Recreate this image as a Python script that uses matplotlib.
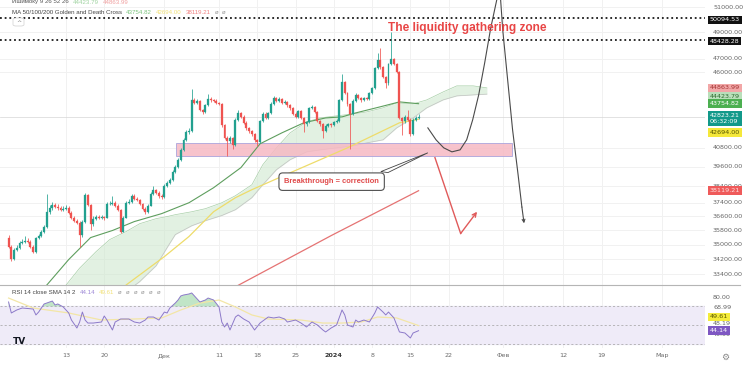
import numpy as np
import pandas as pd
import matplotlib
matplotlib.use("Agg")
import matplotlib.pyplot as plt
import matplotlib.dates as mdates
from matplotlib.transforms import blended_transform_factory, offset_copy
from matplotlib.patches import Rectangle, Polygon, FancyBboxPatch
from matplotlib.lines import Line2D
from matplotlib.ticker import NullLocator

# ---------------- data (12h candles, BTC/USDT) ----------------
candle_start = "2023-11-02 12:00"
first_open = 35390
closes = [34890, 34230, 34720, 34830, 35110, 35170, 35220, 35170, 34890, 34610,
          35390, 35500, 35730, 36010, 36870, 37110, 37290, 37170, 37110, 36990,
          37050, 37110, 36810, 36530, 36350, 36240, 35560, 36300, 37880, 37290,
          36180, 36470, 36590, 36530, 36590, 36530, 37340, 37340, 37400, 37230,
          36990, 35730, 36530, 37400, 37460, 37820, 37640, 37580, 37340, 37050,
          36870, 37230, 37940, 38180, 38000, 37820, 37760, 38420, 38610, 38790,
          39290, 39600, 40040, 40670, 41320, 41850, 41910, 44020, 43810, 43950,
          43330, 43190, 43680, 44090, 44020, 43950, 43810, 43740, 42310, 41450,
          41250, 41450, 40990, 42650, 43120, 42850, 42450, 42110, 41910, 41710,
          41320, 41190, 42580, 43050, 42780, 43120, 43740, 44160, 43950, 44090,
          43810, 43880, 43670, 43470, 43050, 42850, 43260, 42780, 42380, 42510,
          43470, 43540, 43190, 42580, 42380, 41910, 42240, 42380, 42310, 42510,
          42580, 44020, 45280, 44510, 43740, 43050, 43950, 44370, 44160, 44020,
          44160, 44090, 44510, 44860, 46300, 46890, 46380, 45650, 45210, 46600,
          46960, 46600, 46020, 42780, 42580, 42850, 42650, 41710, 42650, 42780,
          42823.21]
highs = [35520, 34950, 34800, 34950, 35200, 35300, 35500, 35350, 35250, 34950,
         35450, 35600, 35820, 36100, 37900, 37250, 37450, 37380, 37300, 37200,
         37180, 37250, 37200, 36900, 36620, 36450, 36320, 36400, 38000, 37950,
         37350, 36600, 36700, 36680, 36700, 36650, 37450, 37500, 37800, 37480,
         37300, 37050, 36600, 37480, 37600, 37900, 37950, 37720, 37650, 37400,
         37120, 37300, 38050, 38400, 38250, 38100, 37900, 38500, 38700, 38900,
         39400, 39700, 40150, 40800, 41450, 41950, 42100, 44800, 44150, 44100,
         44000, 43400, 43750, 44450, 44200, 44100, 44050, 43900, 43800, 42400,
         41600, 41550, 41500, 42750, 43300, 43200, 42950, 42550, 42200, 42000,
         41800, 41400, 42650, 43150, 43150, 43200, 43850, 44280, 44250, 44200,
         44150, 44000, 43950, 43750, 43550, 43150, 43350, 43300, 42850, 42600,
         43550, 43650, 43600, 43250, 42650, 42450, 42350, 42450, 42450, 42600,
         42700, 44100, 45850, 45350, 44600, 43800, 44050, 44500, 44450, 44250,
         44250, 44250, 44600, 44950, 46400, 47400, 47780, 46450, 45750, 46700,
         49000, 47050, 46700, 46100, 42850, 43000, 43300, 42750, 42750, 42900,
         43050]
lows = [34800, 34120, 34150, 34650, 34780, 35050, 35100, 35080, 34800, 34520,
        34560, 35300, 35420, 35650, 35950, 36750, 37000, 37080, 37000, 36900,
        36900, 36950, 36720, 36450, 36250, 36150, 34850, 35450, 36200, 37200,
        35800, 36050, 36380, 36450, 36450, 36400, 36480, 37250, 37280, 37150,
        36900, 35650, 35680, 36480, 37350, 37400, 37550, 37480, 37250, 36950,
        36750, 36800, 37180, 37880, 37900, 37700, 37650, 37700, 38350, 38550,
        38720, 39200, 39520, 39980, 40600, 41250, 41700, 41850, 43700, 43700,
        43250, 43050, 43100, 43600, 43900, 43850, 43700, 43650, 42200, 41350,
        40250, 41100, 40700, 40900, 42550, 42750, 42350, 42000, 41800, 41600,
        41200, 40950, 41100, 42500, 42700, 42700, 43050, 43650, 43850, 43850,
        43700, 43700, 43550, 43350, 42950, 42750, 42780, 42700, 41850, 42250,
        42450, 43400, 43100, 42480, 42250, 41450, 41850, 42150, 42200, 42250,
        42450, 42500, 43950, 44400, 43600, 40700, 42950, 43850, 44050, 43900,
        43950, 43980, 44000, 44450, 44800, 46200, 46250, 45550, 44860, 45100,
        46500, 46500, 45900, 42700, 41650, 42450, 42550, 41600, 41650, 42550,
        42700]

# Moving averages (sampled at candle indices)
ma50_idx = [8, 14, 22, 30, 38, 46, 56, 66, 75, 85, 92, 100, 108, 116, 122, 127, 136, 143, 150]
ma50_val = [31960, 32830, 34180, 35390, 35790, 36300, 36760, 37400, 38300, 39540, 41060,
            41780, 42450, 42780, 42850, 43120, 43540, 43880, 43754.82]
ma100_idx = [40, 43, 57, 66, 75, 83, 89, 104, 124, 143, 150]
ma100_val = [32270, 32830, 34340, 35450, 36870, 37700, 38180, 39290, 40800, 42450, 42694.00]
ma200_idx = [82, 118, 150]
ma200_val = [32660, 35500, 38119.21]

# Ichimoku cloud (indices extend 26 bars into the future)
cloud_idx = [19, 26, 32, 37, 43, 48, 54, 58, 61, 67, 72, 78, 83, 89, 93, 98, 103, 109,
             114, 120, 126, 131, 137, 142, 148, 153, 159, 164, 170, 175]
span_a = [32470, 33720, 34610, 35280, 35730, 36180, 36470, 36590, 36700, 36870, 37050,
          37400, 37820, 38480, 39720, 40800, 41780, 42510, 42780, 42920, 43050, 43190,
          43470, 43810, 43740, 44020, 44580, 45010, 45010, 44863.99]
span_b = [31970, 31970, 31970, 32100, 32470, 33010, 33850, 34830, 35560, 36060, 36350,
          36650, 36990, 37700, 38480, 39410, 40040, 40540, 40670, 40800, 40930, 41120,
          41320, 42110, 42780, 43470, 44020, 44300, 44370, 44423.79]

# RSI 14 and its SMA
rsi_idx = [0, 1, 3, 5, 9, 10, 11, 13, 14, 16, 17, 18, 20, 22, 23, 25, 26, 27, 28, 29,
           31, 34, 35, 36, 38, 39, 41, 44, 46, 48, 50, 51, 53, 55, 57, 58, 59, 61, 62,
           63, 64, 66, 67, 68, 69, 70, 72, 73, 75, 77, 78, 79, 80, 81, 83, 84, 86, 88,
           90, 92, 94, 95, 97, 99, 101, 102, 105, 107, 109, 111, 113, 115, 116, 118,
           120, 122, 123, 124, 126, 127, 128, 130, 132, 134, 135, 137, 138, 139, 141,
           143, 145, 147, 148, 150]
rsi_val = [74.7, 63.0, 66.2, 68.3, 67.2, 60.9, 64.0, 72.6, 73.6, 75.7, 71.5, 72.6, 69.4,
           63.0, 55.5, 47.0, 53.4, 64.0, 55.5, 52.3, 52.3, 53.4, 59.8, 55.5, 44.9, 53.4,
           56.6, 56.6, 53.4, 52.3, 55.5, 58.7, 58.7, 55.5, 64.0, 63.0, 68.3, 73.6, 76.8,
           81.1, 82.1, 83.2, 84.3, 81.1, 77.9, 74.7, 76.8, 78.9, 76.8, 69.4, 53.4, 48.1,
           52.3, 44.9, 58.7, 60.9, 56.6, 53.4, 44.9, 52.3, 56.6, 58.7, 57.7, 58.7, 56.6,
           53.4, 55.5, 52.3, 48.1, 53.4, 50.2, 44.9, 42.8, 47.0, 50.2, 66.2, 60.9, 50.2,
           48.1, 55.5, 53.4, 55.5, 53.4, 63.0, 69.4, 64.0, 60.9, 64.0, 57.7, 42.8, 41.7,
           36.4, 41.7, 44.14]
sma_idx = [0, 9, 22, 34, 46, 56, 63, 70, 77, 83, 89, 95, 107, 115, 122, 129, 135, 142, 150]
sma_val = [78.9, 68.3, 63.0, 55.5, 56.6, 57.7, 66.2, 73.6, 76.8, 69.4, 60.9, 56.6, 55.5,
           52.3, 52.3, 53.4, 58.7, 57.7, 49.61]

# axis labels
tick_dates = ["2023-11-13", "2023-11-20", "2023-12-01", "2023-12-11", "2023-12-18",
              "2023-12-25", "2024-01-01", "2024-01-08", "2024-01-15", "2024-01-22",
              "2024-02-01", "2024-02-12", "2024-02-19", "2024-03-01"]
tick_labels = ["13", "20", "Дек", "11", "18", "25", "2024", "8", "15", "22", "Фев",
               "12", "19", "Мар"]
price_ticks = [51000, 49000, 47000, 46000, 40800, 39600, 38400, 37400, 36600, 35800,
               35000, 34200, 33400]
rsi_ticks = [80.00, 68.99, 48.19, 40.00]
level_hi, level_lo = 50094.53, 48428.28
zone_lo, zone_hi = 40290, 41120

# annotation paths (days after 2023-11-01, price)
BASE = pd.Timestamp("2023-11-01")
zone_days = (32.1, 93.6)
curve_days = [78.2, 79.7, 81.1, 82.6, 84.1, 85.3, 86.4, 87.5, 88.6, 89.7, 90.8, 91.4,
              91.9, 92.8, 93.7, 94.7, 95.4, 95.8]
curve_px = [42110, 41320, 40800, 40540, 40670, 41320, 42650, 44370, 46690, 49330,
            51570, 52300, 49170, 45430, 41980, 39120, 37150, 36200]
red_days = [79.5, 84.2, 87.2]
red_px = [40170, 35620, 36870]

# ---------------- figure ----------------
W, H = 750, 366
fig = plt.figure(figsize=(W / 100, H / 100), dpi=100)
fig.patch.set_facecolor("white")


def px_axes(x0, y0, x1, y1):
    return fig.add_axes([x0 / W, 1 - y1 / H, (x1 - x0) / W, (y1 - y0) / H])


def T(days):
    return mdates.date2num(BASE + pd.Timedelta(days=days))


ax = px_axes(0, 0, 705, 285)
rx = px_axes(0, 285, 705, 348)
for a in (ax, rx):
    for s in a.spines.values():
        s.set_visible(False)
    a.set_facecolor("none")

t_all = mdates.date2num(pd.date_range(candle_start, periods=180, freq="12h"))
n = len(closes)
t = t_all[:n]
c = np.array(closes, float)
o = np.array([first_open] + closes[:-1], float)
hi = np.array(highs, float)
lo = np.array(lows, float)

UP, DN = "#22a08f", "#ef5350"
cols = np.where(c >= o, UP, DN)

xl = (T(-0.07), T(128.9))
ax.set_yscale("log")
ax.set_ylim(32829, 51569)
ax.set_xlim(*xl)
rx.set_xlim(*xl)
rx.set_ylim(25.74, 92.77)

tick_t = mdates.date2num(pd.to_datetime(tick_dates))
GRID = "#f1f1f1"
for tt in tick_t:
    ax.axvline(tt, color=GRID, lw=0.7, zorder=0)
    rx.axvline(tt, color=GRID, lw=0.7, zorder=0)
for p in price_ticks:
    ax.axhline(p, color=GRID, lw=0.7, zorder=0)

# Ichimoku cloud
ct = t_all[cloud_idx]
ax.fill_between(ct, span_a, span_b, color="#cfe8cf", alpha=0.6, lw=0, zorder=1)
ax.plot(ct, span_a, color="#a8cfa8", lw=0.5, zorder=1.1)
ax.plot(ct, span_b, color="#c2c2c2", lw=0.5, zorder=1.1)

# liquidity zone
ax.add_patch(Rectangle((T(zone_days[0]), zone_lo), T(zone_days[1]) - T(zone_days[0]),
                       zone_hi - zone_lo, fc="#f6b9c3", ec="#a9a3dc", lw=0.7,
                       alpha=0.85, zorder=1.5))

# moving averages
ax.plot(t_all[ma200_idx], ma200_val, color="#e57373", lw=0.9, zorder=2)
ax.plot(t_all[ma100_idx], ma100_val, color="#eedc6a", lw=0.9, zorder=2)
ax.plot(t_all[ma50_idx], ma50_val, color="#5e9e5e", lw=0.8, zorder=2)

# candles
ax.vlines(t, lo, hi, colors=cols, lw=0.55, zorder=3)
ax.bar(t, np.maximum(np.abs(c - o), 1), bottom=np.minimum(o, c), width=0.36,
       color=cols, edgecolor=cols, linewidth=0.2, zorder=3.1)

# level lines
ax.axhline(level_hi, color="#1a1a1a", lw=1.3, ls=(0, (1, 1.6)), zorder=4)
ax.axhline(level_lo, color="#1a1a1a", lw=1.3, ls=(0, (1, 1.6)), zorder=4)
ax.axhline(closes[-1], color="#d6d6d6", lw=0.5, zorder=0.5)

# drawings
ax.plot([T(d) for d in curve_days[:-1]], curve_px[:-1], color="#4a4a4a", lw=0.8, zorder=5)
ax.annotate("", xy=(T(curve_days[-1]), curve_px[-1]),
            xytext=(T(curve_days[-2]), curve_px[-2]),
            arrowprops=dict(arrowstyle="->", color="#4a4a4a", lw=0.8, mutation_scale=5,
                            shrinkA=0, shrinkB=0), zorder=5)
ax.plot([T(d) for d in red_days[:2]], red_px[:2], color="#e05a5a", lw=1.0, zorder=5)
ax.annotate("", xy=(T(red_days[2]), red_px[2]), xytext=(T(red_days[1]), red_px[1]),
            arrowprops=dict(arrowstyle="->", color="#e05a5a", lw=1.0, mutation_scale=7,
                            shrinkA=0, shrinkB=0), zorder=5)

ax.add_patch(Polygon([(T(69.6), 39290), (T(78.2), 40480), (T(70.9), 39230)],
                     closed=True, fc="white", ec="#444444", lw=0.6, zorder=6))
ax.text(T(60.6), 38670, "Breakthrough = correction", ha="center", va="center",
        fontsize=5.4, fontweight="bold", color="#e04a4a", family="Liberation Sans",
        zorder=7, bbox=dict(boxstyle="round,pad=0.7,rounding_size=0.5", fc="white",
                            ec="#505050", lw=0.8))
ax.text(T(70.9), 49330, "The liquidity gathering zone", ha="left", va="center",
        fontsize=8.6, fontweight="bold", color="#e84545", family="Liberation Sans",
        zorder=7)

# ---------------- RSI ----------------
rx.axhspan(30, 70, color="#efebf8", zorder=0.2)
for lvl in (70, 50, 30):
    rx.axhline(lvl, color="#a0a0a0", lw=0.5, ls=(0, (3, 3)), zorder=0.5)
rt = t_all[rsi_idx]
rv = np.array(rsi_val)
rx.fill_between(rt, rv, 70, where=rv > 70, interpolate=True, color="#8fd19a",
                alpha=0.55, lw=0, zorder=1)
rx.plot(t_all[sma_idx], sma_val, color="#f3e6a6", lw=0.9, zorder=1.5)
rx.plot(rt, rv, color="#8c79c9", lw=0.7, zorder=2)

# axes ticks
for a in (ax, rx):
    a.yaxis.set_major_locator(NullLocator())
    a.yaxis.set_minor_locator(NullLocator())
    a.xaxis.set_minor_locator(NullLocator())
ax.set_xticks([])
rx.set_xticks(tick_t)
rx.set_xticklabels(tick_labels, fontsize=4.6, color="#6a6a6a")
rx.tick_params(axis="x", length=0, pad=3.5)
for lbl in rx.get_xticklabels():
    if lbl.get_text() == "2024":
        lbl.set_fontweight("bold")
        lbl.set_color("#333333")

FS = 4.6


def rlabel(a, val, txt, fc=None, tc="#666666", dy=0.0, x_px=8):
    tr = blended_transform_factory(a.transAxes, a.transData)
    tr = offset_copy(tr, fig=fig, x=0, y=dy, units="dots")
    kw = dict(fontsize=FS, color=tc, va="center", ha="left", transform=tr,
              clip_on=False, zorder=10)
    if fc:
        kw["bbox"] = dict(boxstyle="square,pad=0.28", fc=fc, ec="none")
    return a.text(1 + x_px / 705, val, txt, **kw)


for p in price_ticks:
    rlabel(ax, p, f"{p:.2f}")
rlabel(ax, level_hi, f"{level_hi:.2f}", fc="#111111", tc="white", dy=-1.5, x_px=5)
rlabel(ax, level_lo, f"{level_lo:.2f}", fc="#111111", tc="white", dy=-1.4, x_px=5)
rlabel(ax, span_a[-1], f"{span_a[-1]:.2f}", fc="#f2a7a7", tc="#a33333", x_px=5)
rlabel(ax, span_b[-1], f"{span_b[-1]:.2f}", fc="#b9dfba", tc="#2e6b2e", dy=-2, x_px=5)
rlabel(ax, ma50_val[-1], f"{ma50_val[-1]:.2f}", fc="#4caf50", tc="white", x_px=5)
tr_t = offset_copy(blended_transform_factory(ax.transAxes, ax.transData), fig=fig,
                   x=0, y=4, units="dots")
ax.text(1 + 5 / 705, closes[-1], f"{closes[-1]:.2f}\n06:32:09", fontsize=FS,
        color="white", va="top", ha="left", transform=tr_t, clip_on=False,
        linespacing=1.25, zorder=10,
        bbox=dict(boxstyle="square,pad=0.28", fc="#12998a", ec="none"))
rlabel(ax, ma100_val[-1], f"{ma100_val[-1]:.2f}", fc="#f5e83a", tc="#555500", dy=-13.4,
       x_px=5)
rlabel(ax, ma200_val[-1], f"{ma200_val[-1]:.2f}", fc="#ef5a5a", tc="#ffe0e0", x_px=5)

for v in rsi_ticks:
    rlabel(rx, v, f"{v:.2f}", dy=3 if v == 48.19 else 0)
rlabel(rx, sma_val[-1], f"{sma_val[-1]:.2f}", fc="#f5ec3a", tc="#555500", dy=8.6, x_px=5)
rlabel(rx, rsi_val[-1], f"{rsi_val[-1]:.2f}", fc="#7e57c2", tc="white", x_px=5)

# separator between panes
fig.add_artist(Line2D([0, 740 / W], [1 - 285 / H] * 2, color="#b5b5b5", lw=0.8))

fig.canvas.draw()
REN = fig.canvas.get_renderer()


def seq_text(x, y, parts, gap=4, **kw):
    """place text pieces one after another, left to right (pixel coords)"""
    kw.setdefault("fontsize", 4.4)
    kw.setdefault("family", "Liberation Sans")
    cx = x
    for s, col in parts:
        tt = fig.text(cx / W, 1 - y / H, s, color=col, va="center", ha="left", **kw)
        bb = tt.get_window_extent(renderer=REN)
        cx = bb.x1 + gap


def ftext(x, y, s, **kw):
    kw.setdefault("fontsize", 4.2)
    kw.setdefault("va", "center")
    fig.text(x / W, 1 - y / H, s, **kw)


# legends
seq_text(12, 2, [("Ишимоку 9 26 52 26", "#555555"), ("44423.79", "#9fd3a0"),
                 ("44863.99", "#f0a0a0")])
seq_text(12, 12, [("MA 50/100/200 Golden and Death Cross", "#444444"),
                  ("43754.82", "#7cc47f"), ("42694.00", "#f2e27a"),
                  ("38119.21", "#f08080"), ("ø", "#999999"), ("ø", "#999999")])
fig.add_artist(FancyBboxPatch((13 / W, 1 - 26 / H), 11 / W, 8 / H,
                              boxstyle="round,pad=0,rounding_size=0.004",
                              transform=fig.transFigure, fc="white", ec="#cfcfcf",
                              lw=0.5, zorder=20))
ftext(18.5, 23, "^", color="#777777", ha="center", fontsize=4.5, zorder=21)

seq_text(12, 292, [("RSI 14 close SMA 14 2", "#444444"), ("44.14", "#9c86d6"),
                   ("49.61", "#f2e27a"), ("ø", "#999999"), ("ø", "#999999"),
                   ("ø", "#999999"), ("ø", "#999999"), ("ø", "#999999"),
                   ("ø", "#999999")])
ftext(13, 342, "TV", color="#131722", fontsize=6.5, fontweight="bold")
ftext(725, 357, "⚙", color="#888888", fontsize=6.5, ha="center")

fig.savefig("out.png", dpi=100, facecolor="white")
